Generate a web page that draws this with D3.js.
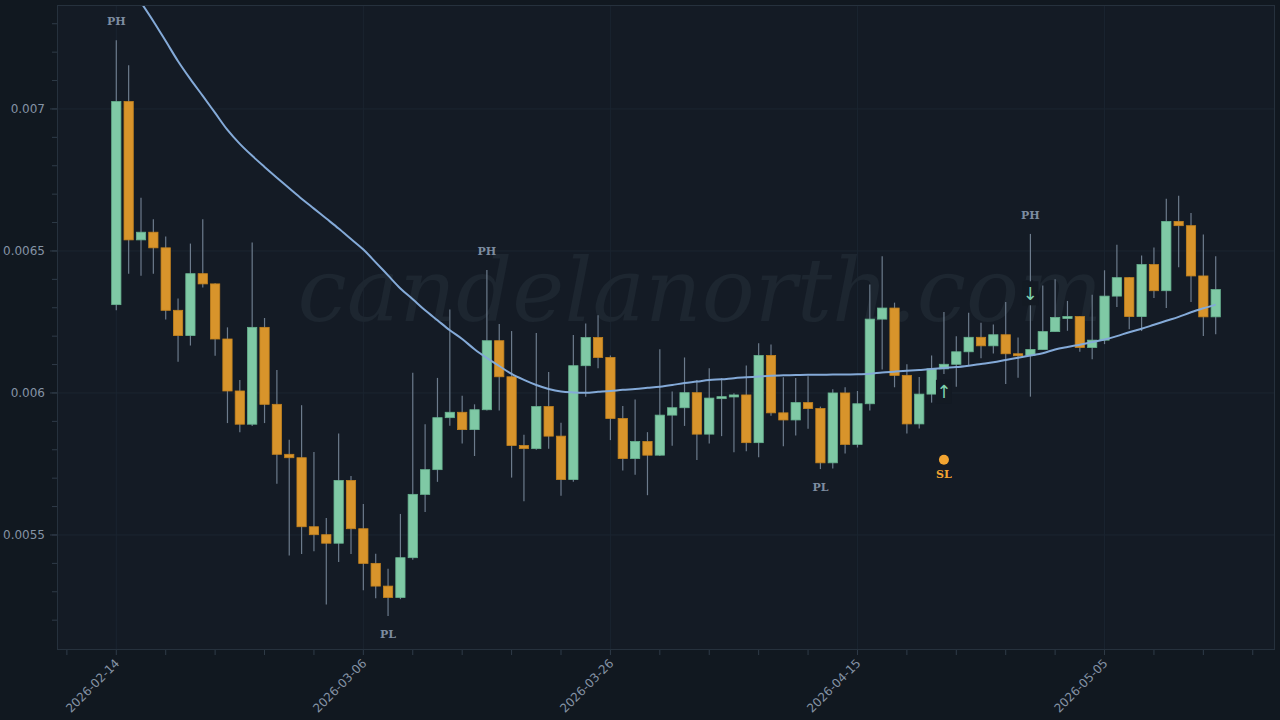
<!DOCTYPE html>
<html><head><meta charset="utf-8">
<script src="https://cdn.jsdelivr.net/npm/d3@7"></script>
<style>html,body{margin:0;padding:0;background:#111820;}svg{display:block}</style>
</head><body><svg id="c" width="1280" height="720"></svg>
<script>
// ---- data ----
const startDate = "2026-02-14";
const endDate = "2026-05-14";
const openVals = [0.006311,0.007026,0.006539,0.006566,0.006511,0.006291,0.006202,0.00642,0.006384,0.00619,
0.006007,0.00589,0.006231,0.00596,0.005784,0.005772,0.005529,0.005501,0.005471,0.005692,
0.005522,0.0054,0.00532,0.00528,0.00542,0.005643,0.00573,0.005913,0.005932,0.005871,
0.005941,0.006184,0.006057,0.005815,0.005804,0.005952,0.005848,0.005695,0.006096,0.006195,
0.006125,0.00591,0.005769,0.005829,0.005781,0.005922,0.005948,0.006001,0.005855,0.005982,
0.005987,0.005993,0.005825,0.006132,0.00593,0.005905,0.005966,0.005945,0.005754,0.006,
0.005819,0.005962,0.00626,0.006299,0.006062,0.005891,0.005996,0.006085,0.006101,0.006145,
0.006196,0.006166,0.006205,0.006138,0.006132,0.006153,0.006216,0.006266,0.006269,0.00616,
0.006186,0.006341,0.006406,0.006269,0.006452,0.00636,0.006604,0.006589,0.006412,0.006268];
const highVals = [0.007242,0.007154,0.006687,0.006612,0.006551,0.006333,0.006526,0.006612,0.006386,0.006231,
0.006046,0.00653,0.006264,0.006081,0.005835,0.005957,0.005792,0.00556,0.005857,0.005708,
0.005609,0.005434,0.005381,0.005574,0.006071,0.00589,0.006053,0.006294,0.00599,0.00596,
0.006433,0.006243,0.006218,0.005853,0.006211,0.006074,0.005895,0.006204,0.006245,0.006274,
0.006132,0.005954,0.005977,0.005862,0.006154,0.006005,0.006125,0.006046,0.006087,0.006052,
0.005999,0.006097,0.006175,0.006171,0.006055,0.006053,0.006059,0.005952,0.006013,0.00602,
0.006007,0.006382,0.006481,0.006318,0.006101,0.006056,0.006132,0.006285,0.0062,0.006282,
0.006247,0.006241,0.00632,0.006195,0.00656,0.006378,0.0064,0.006324,0.006271,0.006346,
0.006432,0.006522,0.006408,0.006484,0.006512,0.006684,0.006694,0.006634,0.006558,0.006481];
const lowVals = [0.006291,0.00642,0.006413,0.00642,0.006259,0.00611,0.006167,0.006371,0.006131,0.005894,
0.005862,0.005884,0.005894,0.00568,0.005428,0.005433,0.005443,0.005255,0.005405,0.005433,
0.005305,0.005277,0.005215,0.005274,0.005413,0.005581,0.005687,0.005885,0.005822,0.005778,
0.005938,0.005938,0.005702,0.005619,0.0058,0.005804,0.005638,0.005687,0.005987,0.006087,
0.005834,0.005727,0.005712,0.00564,0.005778,0.005814,0.005884,0.005764,0.005822,0.005848,
0.005791,0.005795,0.005774,0.00592,0.005812,0.00585,0.005874,0.005732,0.005734,0.005787,
0.005808,0.005938,0.006083,0.00602,0.005857,0.005875,0.005966,0.006067,0.006022,0.006098,
0.006122,0.006139,0.006032,0.006054,0.005987,0.006153,0.006216,0.006219,0.006145,0.006119,
0.006172,0.006303,0.006224,0.006218,0.006334,0.006299,0.006443,0.00632,0.006201,0.006207];
const closeVals = [0.007026,0.006539,0.006566,0.006511,0.006291,0.006202,0.00642,0.006384,0.00619,0.006007,
0.00589,0.006231,0.00596,0.005784,0.005772,0.005529,0.005501,0.005471,0.005692,0.005522,
0.0054,0.00532,0.00528,0.00542,0.005643,0.00573,0.005913,0.005932,0.005871,0.005941,
0.006184,0.006057,0.005815,0.005804,0.005952,0.005848,0.005695,0.006096,0.006195,0.006125,
0.00591,0.005769,0.005829,0.005781,0.005922,0.005948,0.006001,0.005855,0.005982,0.005987,
0.005993,0.005825,0.006132,0.00593,0.005905,0.005966,0.005945,0.005754,0.006,0.005819,
0.005962,0.00626,0.006299,0.006062,0.005891,0.005996,0.006085,0.006101,0.006145,0.006196,
0.006166,0.006205,0.006138,0.006132,0.006153,0.006216,0.006266,0.006269,0.00616,0.006186,
0.006341,0.006406,0.006269,0.006452,0.00636,0.006604,0.006589,0.006412,0.006268,0.006364];
const maVals = [0.007512,0.007439,0.007375,0.007309,0.007239,0.007168,0.007105,0.007046,0.006986,0.006926,
0.006877,0.006835,0.006796,0.006758,0.006721,0.006684,0.006649,0.006614,0.006579,0.006542,
0.006505,0.00646,0.006414,0.006368,0.00633,0.006291,0.006256,0.006221,0.00619,0.006154,
0.006123,0.006095,0.006067,0.006046,0.006028,0.006014,0.006005,0.006002,0.006001,0.006004,
0.006007,0.006011,0.006014,0.006018,0.006022,0.006028,0.006035,0.00604,0.006046,0.006048,
0.006052,0.006055,0.006058,0.006061,0.006062,0.006063,0.006064,0.006064,0.006065,0.006065,
0.006066,0.006068,0.006072,0.006075,0.006078,0.006081,0.006084,0.006088,0.006091,0.006096,
0.006102,0.006108,0.006116,0.006124,0.006132,0.00614,0.006153,0.006162,0.00617,0.006179,
0.006188,0.0062,0.006214,0.006226,0.00624,0.006254,0.006268,0.006284,0.006298,0.006311];
const xTickLabels = ["2026-02-14","2026-03-06","2026-03-26","2026-04-15","2026-05-05"];
const yTickLabels = [0.0055, 0.006, 0.0065, 0.007];
const yMinorTicks = [0.0052,0.0053,0.0054,0.0055,0.0056,0.0057,0.0058,0.0059,0.006,0.0061,0.0062,0.0063,0.0064,0.0065,0.0066,0.0067,0.0068,0.0069,0.007,0.0071,0.0072,0.0073];
const pivotIdx = [0, 22, 30, 57, 74];
const pivotType = ["PH", "PL", "PH", "PL", "PH"];
const signalIdx = [67, 74];
const signalDir = ["up", "down"];
const signalPrice = [0.006004, 0.006351];
const stopIdx = [67];
const stopPrice = [0.005765];

// ---- layout ----
const W = 1280, H = 720;
const L = 57, R = 1275, T = 5, B = 650;
const parse = d3.utcParse("%Y-%m-%d");
const fmt = d3.utcFormat("%Y-%m-%d");
const dates = d3.utcDay.range(parse(startDate), d3.utcDay.offset(parse(endDate), 1));
const data = dates.map((d, i) => ({d, o: openVals[i], h: highVals[i], l: lowVals[i], c: closeVals[i], ma: maVals[i]}));

const DAY = 864e5;
const x = d3.scaleUtc()
  .domain([new Date(+parse(startDate) - 4.8 * DAY), new Date(+parse(endDate) + 4.8 * DAY)])
  .range([L, R]);
const y = d3.scaleLinear().domain([0.005095, 0.007366]).range([B, T]);
const dayW = x(new Date(+dates[1])) - x(dates[0]);
const bodyW = dayW * 0.75;

const svg = d3.select("#c");
svg.append("rect").attr("width", W).attr("height", H).attr("fill", "#111820");
svg.append("rect").attr("x", L).attr("y", T).attr("width", R - L).attr("height", B - T).attr("fill", "#141b25");
svg.append("defs").append("clipPath").attr("id", "clip")
  .append("rect").attr("x", L).attr("y", T).attr("width", R - L).attr("height", B - T);

// grid
const xMajor = xTickLabels.map(parse);
const xMinor = d3.utcDay.every(1).range(new Date(+parse(startDate) - 4 * DAY), new Date(+parse(endDate) + 5 * DAY))
  .filter(d => Math.round((d - parse(startDate)) / DAY) % 4 === 0);
const grid = svg.append("g");
grid.selectAll("line.h").data(yTickLabels).join("line")
  .attr("x1", L).attr("x2", R).attr("y1", d => y(d)).attr("y2", d => y(d))
  .attr("stroke", "#1c2631").attr("stroke-width", 1);
grid.selectAll("line.v").data(xMajor).join("line")
  .attr("y1", T).attr("y2", B).attr("x1", d => x(d)).attr("x2", d => x(d))
  .attr("stroke", "#1a2430").attr("stroke-width", 1);

// watermark
svg.append("text").attr("x", 700).attr("y", 321).attr("text-anchor", "middle")
  .attr("font-family", "DejaVu Serif").attr("font-style", "italic").attr("font-size", 88)
  .attr("fill", "#1d2630").text("candelanorth.com");

const plot = svg.append("g").attr("clip-path", "url(#clip)");
// wicks
plot.selectAll("line.w").data(data).join("line")
  .attr("x1", d => x(d.d)).attr("x2", d => x(d.d))
  .attr("y1", d => y(d.h)).attr("y2", d => y(d.l))
  .attr("stroke", "#6c7b8c").attr("stroke-width", 1.2);
// bodies
plot.selectAll("rect.b").data(data).join("rect")
  .attr("x", d => x(d.d) - bodyW / 2).attr("width", bodyW)
  .attr("y", d => y(Math.max(d.o, d.c)))
  .attr("height", d => Math.max(2, Math.abs(y(d.o) - y(d.c))))
  .attr("fill", d => d.c >= d.o ? "#7fc9a5" : "#d8942b")
  .attr("stroke", d => d.c >= d.o ? "#68b390" : "#c4831f")
  .attr("stroke-width", 0.8);
// MA
plot.append("path").datum(data)
  .attr("d", d3.line().curve(d3.curveMonotoneX).x(d => x(d.d)).y(d => y(d.ma)))
  .attr("fill", "none").attr("stroke", "#84aad8").attr("stroke-width", 2);

// border
svg.append("rect").attr("x", L + 0.5).attr("y", T + 0.5).attr("width", R - L - 1).attr("height", B - T - 1)
  .attr("fill", "none").attr("stroke", "#26313d").attr("stroke-width", 1);

// y axis
const ya = svg.append("g");
ya.selectAll("line.mi").data(yMinorTicks).join("line")
  .attr("x1", L - 5).attr("x2", L).attr("y1", d => y(d)).attr("y2", d => y(d))
  .attr("stroke", "#2f3b48");
ya.selectAll("line.ma").data(yTickLabels).join("line")
  .attr("x1", L - 7).attr("x2", L).attr("y1", d => y(d)).attr("y2", d => y(d))
  .attr("stroke", "#2f3b48");
ya.selectAll("text").data(yTickLabels).join("text")
  .attr("x", L - 12).attr("y", d => y(d)).attr("dy", "0.35em").attr("text-anchor", "end")
  .attr("font-family", "DejaVu Sans").attr("font-size", 12).attr("fill", "#8593a5")
  .text(d => String(d));

// x axis
const xa = svg.append("g");
xa.selectAll("line.mi").data(xMinor).join("line")
  .attr("x1", d => x(d)).attr("x2", d => x(d)).attr("y1", B).attr("y2", B + 5)
  .attr("stroke", "#2f3b48");
xa.selectAll("text").data(xMajor).join("text")
  .attr("transform", d => `translate(${x(d) + 1},${B + 11}) rotate(-45)`)
  .attr("text-anchor", "end").attr("dy", "0.35em")
  .attr("font-family", "DejaVu Sans").attr("font-size", 12).attr("fill", "#8593a5")
  .text(d => fmt(d));

// pivots
const ann = svg.append("g");
pivotIdx.forEach((idx, k) => {
  const d = data[idx];
  const isH = pivotType[k] === "PH";
  ann.append("text").attr("x", x(d.d))
    .attr("y", isH ? y(d.h) - 19 : y(d.l) + 18).attr("dy", "0.35em")
    .attr("text-anchor", "middle").attr("font-family", "DejaVu Serif").attr("font-weight", "bold")
    .attr("font-size", 11).attr("fill", "#7d8ca0").text(pivotType[k]);
});
// signals
signalIdx.forEach((idx, k) => {
  const cx = x(data[idx].d), cy = y(signalPrice[k]);
  ann.append("rect").attr("x", cx - 8).attr("y", cy - 12).attr("width", 16).attr("height", 24)
    .attr("fill", "#131a23");
  ann.append("text").attr("x", cx).attr("y", cy).attr("dy", "0.35em").attr("text-anchor", "middle")
    .attr("font-family", "DejaVu Sans").attr("font-size", 18).attr("fill", "#7fd1ae")
    .text(signalDir[k] === "up" ? "↑" : "↓");
});
// stop loss
stopIdx.forEach((idx, k) => {
  const cx = x(data[idx].d), cy = y(stopPrice[k]);
  ann.append("circle").attr("cx", cx).attr("cy", cy).attr("r", 5).attr("fill", "#f2a431");
  ann.append("text").attr("x", cx).attr("y", cy + 14).attr("dy", "0.35em").attr("text-anchor", "middle")
    .attr("font-family", "DejaVu Serif").attr("font-weight", "bold").attr("font-size", 11)
    .attr("fill", "#f2a431").text("SL");
});
</script></body></html>
